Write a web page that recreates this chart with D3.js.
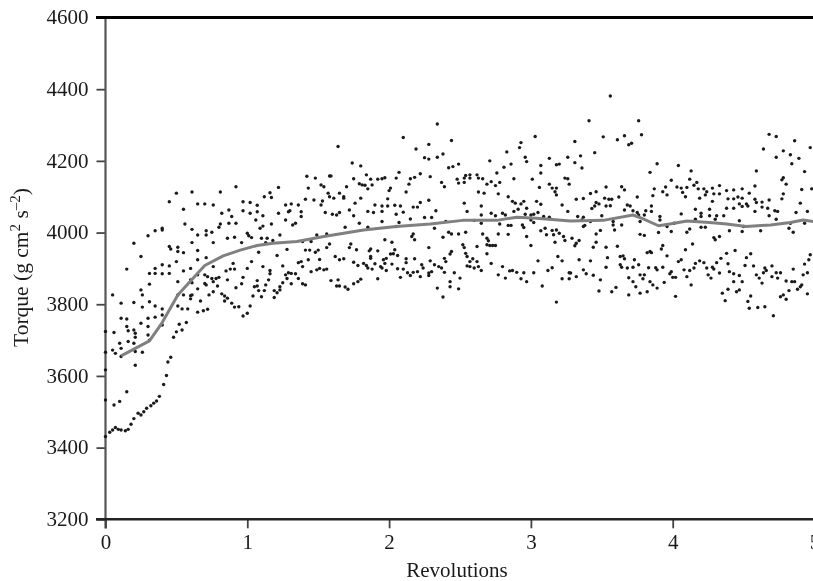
<!DOCTYPE html>
<html><head><meta charset="utf-8">
<script src="https://cdnjs.cloudflare.com/ajax/libs/d3/7.8.5/d3.min.js"></script>
<style>html,body{margin:0;background:#fff;overflow:hidden}svg{display:block;filter:blur(0.3px)}text{font-family:"Liberation Serif",serif;fill:#1a1a1a}</style>
</head><body><svg id="c" width="813" height="581"></svg>
<script>
const xTicks=[0,1,2,3,4,5];
const yTicks=[3200,3400,3600,3800,4000,4200,4400,4600];
const xTitle="Revolutions";
// mean curve [revolutions, torque]
const meanCurve=[[.11,3656],[.31,3698],[.40,3749],[.47,3798],[.51,3826],[.60,3865],[.70,3908],[.83,3935],[.95,3951],[1.07,3964],[1.18,3970],[1.35,3975],[1.54,3989],[1.82,4007],[2.05,4017],[2.29,4024],[2.52,4034],[2.76,4034],[2.90,4043],[3.04,4040],[3.28,4032],[3.51,4034],[3.72,4049],[3.78,4040],[3.90,4019],[3.98,4024],[4.10,4032],[4.26,4028],[4.38,4024],[4.52,4017],[4.69,4021],[4.83,4028],[4.92,4035],[5,4030]];
// samples [revolutions, torque]
const samplesA=[[0,3724],[0,3666],[0,3617],[0,3533],[0,3431],[.03,3443],[.05,3449],[.07,3456],[.09,3451],[.11,3449],[.14,3447],[.16,3451],[.18,3465],[.20,3481],[.23,3496],[.25,3491],[.27,3500],[.29,3510],[.32,3517],[.34,3524],[.36,3530],[.38,3543],[.41,3576],[.43,3601],[.44,3639],[.46,3652],[.06,3519],[.10,3529],[.15,3556],[.48,3708],[.50,3723],[.52,3744],[.54,3728],[.57,3749],
[.05,3826],[.11,3803],[.20,3805],[.26,3792],[.31,3807],[.35,3795],[.40,3787],[.40,3770],[.11,3761],[.15,3759],[.15,3738],[.16,3726],[.20,3728],[.21,3719],[.06,3721],[.10,3691],[.11,3677],[.05,3672],[.07,3663],[.11,3654],[.16,3696],[.21,3708],[.20,3691],[.21,3668],[.26,3666],[.21,3630],[.25,3747],[.30,3761],[.35,3764],[.30,3738],[.30,3714],[.31,3700],[.40,3742],[.15,3898],[.20,3970],[.25,3933],[.30,3991],[.35,4005],[.40,4007],[.40,4012],[.45,3961],[.46,3954],[.51,3959],[.51,3947],[.55,3944],[.45,4086],[.55,4065],[.56,4024],[.61,4009],[.65,3993],[.71,4005],[.71,3993],[.75,4001],[.76,3972],[.61,3972],[.65,3950],[.65,3924],[.71,3930],[.50,3919],[.45,3907],[.40,3910],[.35,3900],[.35,3886],[.31,3886],[.40,3885],[.45,3886],[.55,3893],[.60,3900],[.31,3856],[.25,3840],[.26,3826],[.51,3863],[.60,3868],[.65,3882],[.61,3860],[.70,3882],[.72,3877],[.75,3872],[.76,3905],[.51,3826],[.55,3826],[.60,3824],[.61,3826],[.60,3815],[.51,3795],[.54,3787],[.58,3787],[.65,3843],[.70,3858],[.71,3854],[.78,3872],[.80,3875],[.76,3863],[.79,3851],[.76,3835],[.73,3826],[.67,3809],[.65,3778],[.69,3782],[.72,3786],[.82,3829],[.84,3823],[.86,3817],[.84,3809],[.89,3803],[.91,3792],[.94,3793],[.97,3767],[1.0,3775],[1.02,3795],[.86,3868],[.85,3893],[.88,3898],[.90,3914],[.91,3898],[1.0,3900],[.97,3875],[.96,3857],[.92,3846],[1.03,3919],[1.11,3905],[1.08,3945],[1.07,3866],[1.07,3851],[1.05,3849],[1.08,3838],[1.10,3821],[1.04,3823],[1.12,3838],[1.13,3854],[1.15,3868],[1.16,3885],[1.16,3894],[1.19,3819],[1.19,3838],[1.21,3832],[1.23,3840],[1.23,3849],[1.25,3860],[1.28,3872],[1.27,3882],[1.29,3888],[1.31,3886],[1.34,3885],[1.36,3872],[1.39,3857],[1.41,3854],[1.31,3857],[1.25,3907],[1.21,3936],[1.28,3953],[1.38,3919],[1.36,3916],[1.39,3905],[1.43,3924],[1.45,3891],[1.51,3925],[1.51,3900],[1.49,3896],[1.54,3896],[1.56,3898],[1.41,3951],[1.44,3951],[1.45,3975],[1.50,3951],[1.48,3945],[1.56,3958],[1.39,3975],[1.49,3993],[1.56,3996],
[.82,4054],[.87,4063],[.89,4045],[.97,4061],[1.02,4054],[1.07,4058],[1.11,4047],[1.06,4035],[1.22,4054],[1.27,4077],[1.31,4080],[1.29,4058],[1.30,4061],[1.36,4077],[1.38,4058],[1.38,4045],[1.55,4056],[1.27,4035],[1.34,4026],[1.32,4021],[1.17,4024],[1.11,4018],[1.09,4012],[.81,4024],[.80,4015],[.87,4026],[.92,4026],[.86,3984],[.91,3987],[.96,3972],[1.0,3998],[1.01,3991],[1.03,3986],[1.10,3984],[1.14,3984],[1.18,3978],[1.23,3993],[1.13,3972],[.97,4086],[1.02,4084],[1.07,4076],[.65,4080],[.70,4080],[.76,4077],
[.50,4110],[.61,4113],[.81,4113],[.92,4128],[1.16,4111],[1.12,4100],[1.17,4098],[1.22,4126],[1.42,4157],[1.48,4152],[1.43,4124],[1.52,4133],[1.54,4128],[1.58,4100],[1.57,4110],[1.41,4093],[1.47,4091],[1.53,4088],[1.52,4077],[1.58,4158]];
const samplesB=[[1.64,4240],[2.10,4265],[2.34,4303],[2.44,4257],[2.28,4246],[2.19,4233],[2.38,4219],[2.34,4210],[2.25,4209],[2.28,4205],[1.74,4194],[1.80,4186],[2.42,4181],[2.45,4184],[2.49,4191],[1.59,4158],[1.75,4150],[1.84,4161],[1.87,4149],[1.92,4149],[1.95,4150],[1.97,4153],[2.05,4152],[2.07,4168],[2.15,4150],[2.18,4154],[2.22,4164],[2.29,4156],[1.79,4136],[1.81,4133],[1.83,4132],[1.85,4122],[1.88,4133],[1.70,4128],[2.14,4135],[2.01,4124],[2.00,4117],[2.12,4113],[2.37,4140],[2.39,4128],[2.48,4149],[2.49,4138],[2.53,4140],[2.53,4152],[2.54,4159],[2.57,4161],[2.57,4152],[2.62,4161],[2.63,4152],[2.66,4150],[2.69,4135],[2.72,4142],[2.75,4131],[2.78,4140],[2.76,4166],[2.71,4200],[2.81,4182],[2.86,4191],[2.83,4225],[2.92,4237],[2.93,4251],[3.03,4268],[2.96,4210],[2.97,4198],[3.07,4187],[3.07,4166],[3.13,4207],[3.18,4189],[3.20,4191],[3.26,4210],[2.88,4150],[3.01,4149],[3.06,4126],[3.13,4135],[3.15,4124],[3.18,4124],[3.17,4114],[3.18,4105],[3.24,4152],[3.26,4150],[3.27,4135],[2.63,4113],[2.67,4110],[2.77,4108],[2.84,4100],
[1.65,4110],[1.61,4096],[1.68,4100],[1.68,4096],[1.80,4096],[1.99,4094],[1.76,4082],[1.90,4077],[1.95,4074],[1.99,4074],[2.04,4076],[2.08,4074],[2.22,4084],[2.28,4090],[2.17,4071],[2.20,4071],[1.72,4063],[1.85,4059],[1.89,4056],[2.10,4057],[2.05,4051],[1.60,4051],[1.63,4049],[1.65,4056],[1.75,4047],[1.95,4059],[2.15,4038],[2.25,4042],[2.30,4042],[2.33,4061],[2.53,4082],[2.55,4059],[2.65,4074],[2.65,4049],[2.72,4054],[2.75,4047],[2.80,4054],[2.82,4049],[2.87,4087],[2.89,4082],[2.95,4087],[2.91,4065],[2.88,4059],[2.97,4068],[2.93,4080],[2.96,4051],[3.0,4049],[3.02,4051],[3.04,4087],[3.07,4079],[3.05,4056],[3.22,4077],[3.09,4045],[3.13,4043],[3.26,4059],[3.0,4035],[3.02,4028],
[1.69,4015],[1.79,4026],[1.85,4015],[1.95,4031],[2.05,4017],[2.07,4028],[2.32,4012],[2.40,4031],[2.60,4034],[2.65,4026],[2.78,4024],[2.84,4020],[2.86,4020],[2.94,4021],[2.95,4014],[3.07,4005],[3.10,4012],[3.15,4006],[3.18,4007],[3.20,3998],[3.11,3994],[3.16,3994],[3.24,3978],[3.17,3973],[3.23,3989],[2.42,4001],[2.44,3996],[2.49,3996],[2.54,4001],[2.66,3996],[2.77,3996],[2.84,3995],[2.97,3989],[3.0,3964],[2.69,3984],[2.70,3977],[2.69,3966],[2.71,3964],[2.73,3964],[2.75,3964],[2.62,3961],[2.52,3966],[2.53,3958],[2.38,3987],[2.28,3958],[2.17,3996],[2.16,3989],[2.18,3980],[1.97,3980],[2.02,3973],[1.58,3968],[1.73,3968],[1.72,3958],[1.77,3952],[1.87,3954],[1.86,3949],[1.92,3949],[2.04,3952],[2.06,3936],[2.01,3940],[2.03,3941],[1.62,3933],[1.65,3924],[1.68,3927],[1.87,3933],[1.87,3928],[1.75,3917],[1.78,3908],[1.82,3914],[1.84,3908],[1.85,3901],[1.88,3898],[1.90,3913],[1.94,3905],[1.95,3901],[1.96,3924],[1.98,3928],[1.97,3914],[1.98,3894],[2.02,3912],[2.06,3899],[2.12,3916],[2.12,3927],[2.18,3927],[2.10,3898],[2.13,3888],[2.17,3889],[2.20,3891],[2.23,3910],[2.24,3901],[2.29,3921],[2.32,3910],[2.35,3905],[2.37,3901],[2.39,3928],[2.40,3919],[2.43,3940],[2.44,3947],[2.39,3889],[2.46,3888],[2.28,3887],[2.30,3891],[2.22,3877],[2.15,3880],[2.08,3875],[1.92,3871],[1.80,3870],[1.78,3863],[1.75,3857],[1.71,3842],[1.69,3848],[1.65,3851],[1.63,3851],[1.64,3868],[1.59,3866],[2.34,3845],[2.38,3820],[2.43,3863],[2.43,3849],[2.49,3843],[2.50,3873],[2.28,3880],[2.54,3942],[2.55,3933],[2.59,3927],[2.57,3919],[2.62,3919],[2.55,3907],[2.57,3905],[2.60,3901],[2.63,3905],[2.65,3894],[2.69,3941],[2.72,3914],[2.80,3905],[2.77,3882],[2.82,3873],[2.85,3893],[2.87,3894],[2.90,3889],[2.95,3888],[2.93,3871],[2.97,3863],[3.02,3888],[3.05,3921],[3.08,3851],[3.12,3894],[3.15,3902],[3.19,3933],[3.22,3921],[3.22,3871],[3.18,3806],[3.27,3871],[3.27,3888]];
const samplesC=[[3.56,4381],[3.41,4312],[3.76,4312],[3.31,4254],[3.51,4267],[3.61,4259],[3.66,4270],[3.78,4273],[3.69,4245],[3.71,4249],[3.35,4214],[3.45,4223],[3.31,4195],[3.36,4180],[3.89,4192],[3.84,4168],[4.04,4187],[4.13,4172],[3.99,4146],[4.12,4149],[4.17,4140],[4.15,4132],[3.53,4127],[3.64,4128],[3.66,4119],[3.87,4122],[3.95,4127],[3.93,4114],[4.03,4127],[4.06,4124],[4.10,4126],[4.07,4112],[4.09,4100],[3.96,4105],[3.86,4103],[4.18,4122],[4.22,4122],[4.24,4114],[4.23,4105],[4.19,4096],[4.28,4124],[4.33,4131],[4.29,4108],[4.33,4108],[4.38,4117],[4.43,4119],[4.49,4122],[4.39,4094],[4.43,4094],[4.46,4099],[4.49,4096],[4.54,4110],[4.28,4087],[4.59,4172],[4.58,4130],[4.64,4233],[4.68,4274],[4.73,4268],[4.73,4210],[4.78,4228],[4.83,4217],[4.89,4207],[4.84,4192],[4.86,4256],[4.97,4237],[4.93,4170],[4.78,4153],[4.77,4147],[4.80,4135],[4.91,4120],[4.98,4122],[4.78,4108],[4.77,4094],[4.68,4091],[4.58,4093],[4.59,4084],[4.63,4085],[4.63,4071],[4.67,4068],[4.58,4059],[4.52,4080],[4.53,4074],[4.49,4073],[4.47,4080],[4.43,4068],[4.38,4068],[4.72,4061],[4.74,4059],[4.90,4082],[4.87,4056],[4.95,4059],[4.68,4047],[4.73,4037],
[3.32,4093],[3.37,4095],[3.42,4109],[3.46,4114],[3.52,4096],[3.55,4093],[3.57,4093],[3.62,4099],[3.75,4099],[3.46,4084],[3.48,4080],[3.45,4074],[3.43,4067],[3.53,4074],[3.56,4075],[3.68,4077],[3.70,4074],[3.66,4063],[3.72,4061],[3.85,4074],[3.81,4061],[3.75,4056],[3.76,4049],[3.85,4059],[4.16,4065],[4.26,4065],[4.20,4054],[4.06,4052],[4.20,4045],[4.26,4047],[4.31,4047],[4.36,4047],[4.30,4037],[4.16,4037],[3.91,4045],[3.80,4049],[3.33,4045],[3.37,4043],[3.50,4047],[3.58,4031],[3.42,4031],[3.36,4035],[3.91,4035],
[3.37,4017],[3.38,4020],[3.58,4021],[3.64,4021],[3.59,4007],[3.77,4031],[3.90,4000],[3.96,4017],[3.99,4003],[4.01,4026],[4.10,4001],[4.12,4010],[4.20,4015],[4.23,4015],[4.40,4005],[4.49,4003],[4.47,4033],[4.50,4017],[4.62,4005],[4.82,4012],[4.85,4001],[4.83,4026],[4.93,4026],[3.49,4006],[3.46,3996],[3.29,3984],[3.34,3978],[3.32,3970],[3.31,3963],[3.44,3959],[3.46,3973],[3.53,3959],[3.61,3962],[3.77,3995],[3.80,3992],[4.30,3980],[4.29,3986],[4.33,3989],[4.14,3968],[4.09,3952],[3.93,3964],[3.92,3954],[3.84,3947],[3.82,3944],[3.85,3944],[3.96,3935],[4.44,3950],[4.38,3942],[4.34,3928],[4.31,3916],[4.39,3913],[4.55,3941],[4.52,3930],[4.97,3938],[4.96,3924],[4.93,3912],[3.34,3924],[3.42,3921],[3.54,3930],[3.63,3933],[3.65,3935],[3.66,3927],[3.63,3910],[3.64,3903],[3.68,3901],[3.72,3903],[3.76,3910],[3.73,3924],[3.53,3903],[3.37,3896],[3.39,3885],[3.28,3887],[3.32,3877],[3.44,3881],[3.49,3868],[3.69,3874],[3.72,3863],[3.74,3849],[3.77,3882],[3.80,3882],[3.79,3871],[3.83,3902],[3.88,3902],[3.89,3896],[3.93,3903],[3.84,3863],[3.86,3854],[3.89,3845],[3.94,3861],[3.99,3891],[3.98,3885],[4.00,3875],[4.02,3875],[4.04,3919],[4.06,3924],[4.08,3896],[4.10,3877],[4.12,3894],[4.15,3901],[4.16,3914],[4.19,3921],[4.22,3916],[4.24,3901],[4.25,3882],[4.27,3873],[4.28,3903],[4.29,3898],[4.13,3854],[4.33,3887],[4.40,3891],[4.43,3885],[4.47,3880],[4.51,3908],[4.57,3907],[4.59,3882],[4.61,3873],[4.65,3901],[4.70,3907],[4.66,3894],[4.64,3888],[4.70,3877],[4.73,3888],[4.76,3888],[4.74,3873],[4.85,3898],[4.80,3865],[4.84,3863],[4.86,3863],[4.92,3882],[4.95,3888],[4.43,3863],[4.49,3863],[4.63,3859],[4.39,3842],[4.35,3831],[4.37,3810],[4.45,3835],[4.47,3840],[3.48,3837],[3.57,3835],[3.60,3847],[3.69,3826],[3.77,3831],[3.82,3835],[4.02,3822],[4.55,3823],[4.53,3808],[4.54,3789],[4.60,3791],[4.65,3793],[4.71,3768],[4.76,3821],[4.78,3826],[4.80,3814],[4.82,3838],[4.88,3842],[4.90,3849],[4.91,3854],[4.95,3829]];

const svg=d3.select("#c");
const x=d3.scaleLinear().domain([0,5]).range([105.5,814.5]);
const y=d3.scaleLinear().domain([3200,4600]).range([519.3,17.5]);

const gY=svg.append("g").attr("transform","translate(105.5,0)")
 .call(d3.axisLeft(y).tickValues(yTicks).tickFormat(d3.format("d")).tickSize(9).tickPadding(8));
gY.select(".domain").remove();
gY.selectAll("line").attr("stroke","#444").attr("stroke-width",1.8);
gY.selectAll("text").attr("font-size",21).attr("dy","0.3em");
svg.append("line").attr("x1",105.5).attr("x2",105.5).attr("y1",y(4600)).attr("y2",528.5).attr("stroke","#555").attr("stroke-width",2.2);

const gX=svg.append("g").attr("transform","translate(0,519.3)")
 .call(d3.axisBottom(x).tickValues(xTicks).tickFormat(d3.format("d")).tickSize(9).tickPadding(6));
gX.select(".domain").remove();
gX.selectAll("line").attr("stroke","#444").attr("stroke-width",1.8);
gX.selectAll("text").attr("font-size",21);

svg.append("line").attr("x1",96).attr("x2",813).attr("y1",y(4600)).attr("y2",y(4600)).attr("stroke","#000").attr("stroke-width",3);
svg.append("line").attr("x1",96).attr("x2",813).attr("y1",y(3200)).attr("y2",y(3200)).attr("stroke","#222").attr("stroke-width",2.4);

svg.append("g").selectAll("circle").data([...samplesA,...samplesB,...samplesC]).join("circle")
 .attr("cx",d=>x(d[0])).attr("cy",d=>y(d[1])).attr("r",1.7).attr("fill","#1a1a1a");

svg.append("path").datum(meanCurve)
 .attr("d",d3.line().x(d=>x(d[0])).y(d=>y(d[1])))
 .attr("fill","none").attr("stroke","#808080").attr("stroke-width",3).attr("stroke-linejoin","round");

svg.append("text").attr("x",457).attr("y",577).attr("text-anchor","middle").attr("font-size",21).text(xTitle);
const t=svg.append("text").attr("transform","translate(28,267.5) rotate(-90)").attr("text-anchor","middle").attr("font-size",21.5);
t.append("tspan").text("Torque (g cm");
t.append("tspan").attr("dy",-8).attr("font-size",15).text("2");
t.append("tspan").attr("dy",8).text(" s");
t.append("tspan").attr("dy",-8).attr("font-size",15).text("\u20132");
t.append("tspan").attr("dy",8).text(")");
</script></body></html>
